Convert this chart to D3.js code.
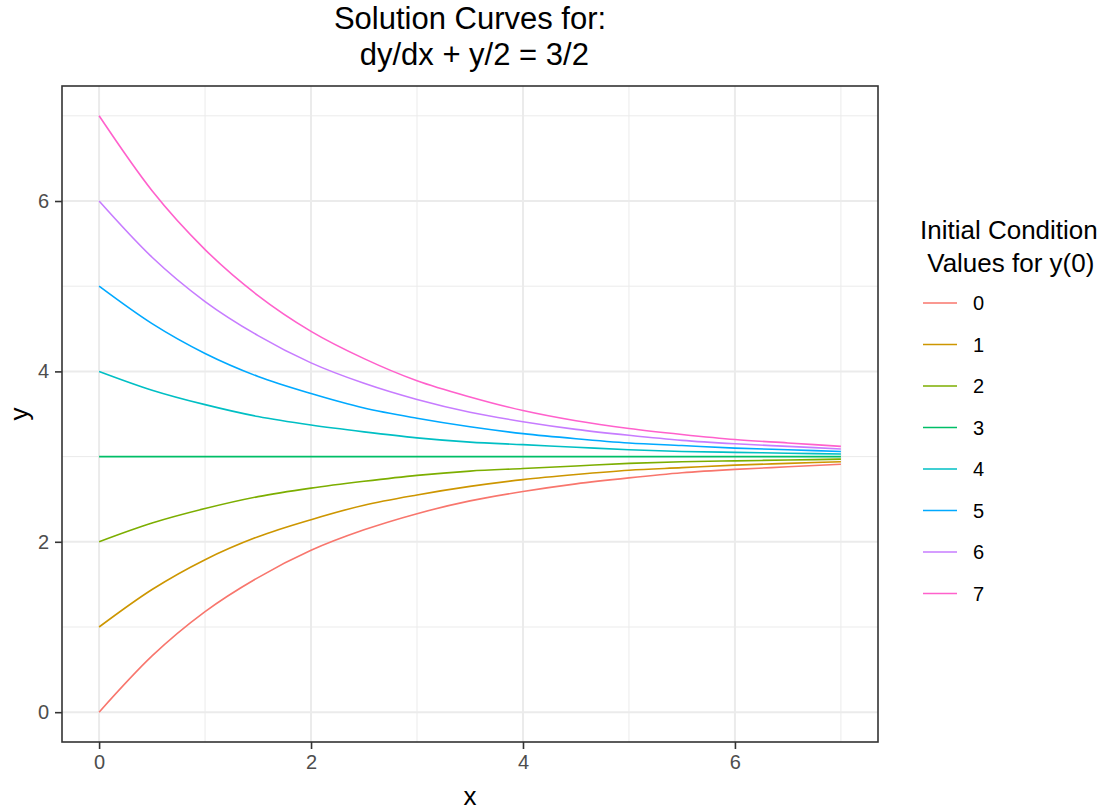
<!DOCTYPE html>
<html>
<head>
<meta charset="utf-8">
<script src="https://cdn.jsdelivr.net/npm/d3@7"></script>
<style>
  body { margin: 0; background: #fff; }
  text { font-family: "Liberation Sans", Arial, sans-serif; white-space: pre; }
</style>
</head>
<body>
<div id="chart"></div>
<script>
const xs = [0, 0.5, 1, 1.5, 2, 2.5, 3, 3.5, 4, 4.5, 5, 5.5, 6, 6.5, 7];

const initialValues = ["0", "1", "2", "3", "4", "5", "6", "7"];

const y0Curve = [0, 0.66, 1.18, 1.58, 1.90, 2.14, 2.33, 2.48, 2.59, 2.68, 2.75, 2.81, 2.85, 2.88, 2.91];
const y1Curve = [1, 1.44, 1.79, 2.06, 2.26, 2.43, 2.55, 2.65, 2.73, 2.79, 2.84, 2.87, 2.90, 2.92, 2.94];
const y2Curve = [2, 2.22, 2.39, 2.53, 2.63, 2.71, 2.78, 2.83, 2.86, 2.89, 2.92, 2.94, 2.95, 2.96, 2.97];
const y3Curve = [3, 3, 3, 3, 3, 3, 3, 3, 3, 3, 3, 3, 3, 3, 3];
const y4Curve = [4, 3.78, 3.61, 3.47, 3.37, 3.29, 3.22, 3.17, 3.14, 3.11, 3.08, 3.06, 3.05, 3.04, 3.03];
const y5Curve = [5, 4.56, 4.21, 3.94, 3.74, 3.57, 3.45, 3.35, 3.27, 3.21, 3.16, 3.13, 3.10, 3.08, 3.06];
const y6Curve = [6, 5.34, 4.82, 4.42, 4.10, 3.86, 3.67, 3.52, 3.41, 3.32, 3.25, 3.19, 3.15, 3.12, 3.09];
const y7Curve = [7, 6.12, 5.43, 4.89, 4.47, 4.15, 3.89, 3.70, 3.54, 3.42, 3.33, 3.26, 3.20, 3.16, 3.12];

const curves = [y0Curve, y1Curve, y2Curve, y3Curve, y4Curve, y5Curve, y6Curve, y7Curve];

const xTicks = [0, 2, 4, 6];
const yTicks = [0, 2, 4, 6];
const xMinor = [1, 3, 5, 7];
const yMinor = [1, 3, 5, 7];

const colors = ["#F8766D", "#CD9600", "#7CAE00", "#00BE67", "#00BFC4", "#00A9FF", "#C77CFF", "#FF61CC"];

const W = 1100, H = 810;
const margin = { top: 86, right: 222, bottom: 68, left: 62 },
      width = W - margin.left - margin.right,
      height = H - margin.top - margin.bottom;

const root = d3.select("#chart")
               .append("svg")
               .attr("width", W)
               .attr("height", H);

const svg = root.append("g")
                .attr("transform", `translate(${margin.left},${margin.top})`);

// ggplot style 5% expansion
const x = d3.scaleLinear()
            .domain([-0.35, 7.35])
            .range([0, width]);

const y = d3.scaleLinear()
            .domain([-0.35, 7.35])
            .range([height, 0]);

const color = d3.scaleOrdinal().domain(initialValues).range(colors);

// Grid
svg.selectAll(".gx-minor").data(xMinor).join("line")
   .attr("x1", d => x(d)).attr("x2", d => x(d))
   .attr("y1", 0).attr("y2", height)
   .attr("stroke", "#EBEBEB").attr("stroke-width", 1);

svg.selectAll(".gy-minor").data(yMinor).join("line")
   .attr("y1", d => y(d)).attr("y2", d => y(d))
   .attr("x1", 0).attr("x2", width)
   .attr("stroke", "#EBEBEB").attr("stroke-width", 1);

svg.selectAll(".gx-major").data(xTicks).join("line")
   .attr("x1", d => x(d)).attr("x2", d => x(d))
   .attr("y1", 0).attr("y2", height)
   .attr("stroke", "#EBEBEB").attr("stroke-width", 2);

svg.selectAll(".gy-major").data(yTicks).join("line")
   .attr("y1", d => y(d)).attr("y2", d => y(d))
   .attr("x1", 0).attr("x2", width)
   .attr("stroke", "#EBEBEB").attr("stroke-width", 2);

// Lines
const line = d3.line()
               .x((d, i) => x(xs[i]))
               .y(d => y(d))
               .curve(d3.curveMonotoneX);

svg.selectAll(".curve")
   .data(curves)
   .join("path")
   .attr("fill", "none")
   .attr("stroke", (d, i) => color(initialValues[i]))
   .attr("stroke-width", 1.6)
   .attr("d", d => line(d));

// Panel border
svg.append("rect")
   .attr("width", width)
   .attr("height", height)
   .attr("fill", "none")
   .attr("stroke", "#333333")
   .attr("stroke-width", 1.6);

// Axes
const xAxis = svg.append("g")
                 .attr("transform", `translate(0, ${height})`)
                 .call(d3.axisBottom(x).tickValues(xTicks).tickSize(7).tickPadding(6));

const yAxis = svg.append("g")
                 .call(d3.axisLeft(y).tickValues(yTicks).tickSize(7).tickPadding(6));

[xAxis, yAxis].forEach(a => {
    a.select(".domain").remove();
    a.selectAll(".tick line").attr("stroke", "#333333").attr("stroke-width", 1.6);
    a.selectAll(".tick text")
     .attr("fill", "#4D4D4D")
     .style("font-size", "20px")
     .style("font-family", "Liberation Sans, Arial, sans-serif");
});

// Axis titles
svg.append("text")
   .attr("x", width / 2)
   .attr("y", height + 63)
   .attr("text-anchor", "middle")
   .style("font-size", "26px")
   .text("x");

svg.append("text")
   .attr("transform", `translate(${-34}, ${height / 2}) rotate(-90)`)
   .attr("text-anchor", "middle")
   .style("font-size", "26px")
   .text("y");

// Title
const title = svg.append("text")
                 .attr("text-anchor", "middle")
                 .style("font-size", "31px");
title.append("tspan").attr("x", width / 2).attr("y", -57).text("Solution Curves for:");
title.append("tspan").attr("x", width / 2).attr("y", -21).text(" dy/dx + y/2 = 3/2");

// Legend
const lg = root.append("g").attr("transform", "translate(920, 0)");

lg.append("text").attr("x", 0).attr("y", 239).style("font-size", "26px").text("Initial Condition");
lg.append("text").attr("x", 0).attr("y", 272).style("font-size", "26px").text(" Values for y(0)");

const legend = lg.selectAll(".legend")
                 .data(initialValues)
                 .join("g")
                 .attr("transform", (d, i) => `translate(0, ${303 + i * 41.5})`);

legend.append("line")
      .attr("x1", 3).attr("x2", 37)
      .attr("stroke", d => color(d))
      .attr("stroke-width", 1.6);

legend.append("text")
      .attr("x", 53)
      .attr("y", 7)
      .style("font-size", "20px")
      .text(d => d);
</script>
</body>
</html>
